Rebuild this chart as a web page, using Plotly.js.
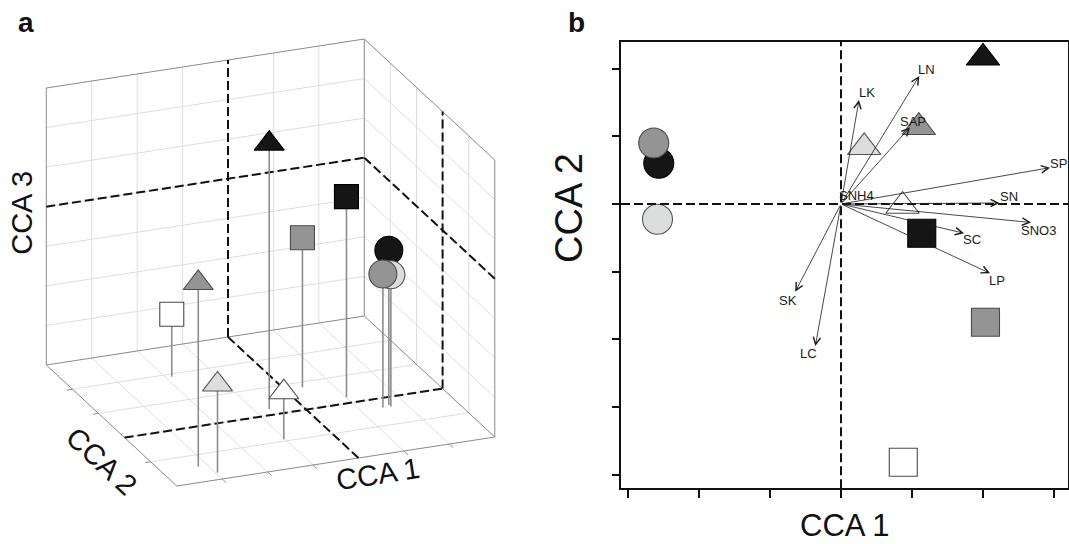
<!DOCTYPE html>
<html><head><meta charset="utf-8">
<script src="https://cdn.plot.ly/plotly-3.0.1.min.js"></script>
<style>html,body{margin:0;padding:0;background:#fff}#chart{width:1069px;height:544px}</style>
</head><body><div id="chart"></div>
<script>
// ---------------- data ----------------
// samples (draw order: back to front)
const sampleSymbol = ['circle','circle','circle','triangle-up','triangle-up','triangle-up','triangle-up','square','square','square'];
const sampleShade  = ['black','light','grey','black','grey','light','white','black','grey','white'];

// panel a : CCA 1-3 scores
const a_cca1 = [1.65, 1.66, 1.49, -0.69, -3.20, -2.96, -1.03, 1.01, 0.38, -1.87];
const a_cca2 = [-0.29, -0.35, -0.34, 0.22, -1.43, -1.75, -0.93, 0.22, 0.81, 1.90];
const a_cca3 = [-0.09, -0.67, -0.63, 2.71, 0.64, -1.77, -2.81, 1.07, -0.22, -2.42];
const a1Ticks = [-4,-3,-2,-1,0,1,2,3];
const a2Ticks = [3,2,1,0,-1,-2];
const a3Ticks = [-4,-3,-2,-1,0,1,2,3];

// panel b : CCA 1-2 biplot
const b_cca1 = [-2.563, -2.581, -2.634, 1.997, 1.094, 0.326, 0.865, 1.136, 2.032, 0.876];
const b_cca2 = [0.602, -0.226, 0.902, 2.161, 1.135, 0.838, -0.030, -0.433, -1.747, -3.818];
const envNames = ['LK','LN','SAP','SP','SN','SNO3','SC','LP','SK','LC','SNH4'];
const envCCA1 = [0.253, 1.101, 0.970, 2.940, 2.229, 2.672, 1.730, 2.096, -0.643, -0.361, 0.05];
const envCCA2 = [1.537, 1.892, 1.134, 0.537, 0.015, -0.273, -0.433, -1.024, -1.296, -2.099, 0.02];
const envLabelCCA1 = [0.366, 1.205, 1.006, 3.065, 2.367, 2.771, 1.842, 2.194, -0.748, -0.460, 0.215];
const envLabelCCA2 = [1.648, 1.985, 1.222, 0.594, 0.108, -0.392, -0.528, -1.135, -1.419, -2.214, 0.129];
const bXTicks = [-3,-2,-1,0,1,2,3];
const bYTicks = [-4,-3,-2,-1,0,1,2];

// ---------------- styles ----------------
const FONT = 'Liberation Sans, Arial, Helvetica, sans-serif';
const fillOf = {black:'#151515', grey:'#949494', light:'#dcdddd', white:'#ffffff'};
const edgeOf = {black:'#000000', grey:'#4a4a4a', light:'#555555', white:'#4a4a4a'};
const W = 1069, H = 544;

// panel a oblique projection (pixel space of hidden axes x2/y2)
const P = {ox:46.3, oy:365, eu:[318,-49], ev:[130.5,121], ew:[0,-277]};
const r1 = [a1Ticks[0], a1Ticks[a1Ticks.length-1]];
const r2 = [a2Ticks[0], a2Ticks[a2Ticks.length-1]];
const r3 = [a3Ticks[0], a3Ticks[a3Ticks.length-1]];
function proj(c1,c2,c3){
  const u=(c1-r1[0])/(r1[1]-r1[0]), v=(c2-r2[0])/(r2[1]-r2[0]), w=(c3-r3[0])/(r3[1]-r3[0]);
  return [P.ox+u*P.eu[0]+v*P.ev[0]+w*P.ew[0], P.oy+u*P.eu[1]+v*P.ev[1]+w*P.ew[1]];
}
function segs(list){ // list of polylines of 3D points
  const x=[],y=[];
  list.forEach(pl=>{ pl.forEach(p=>{const q=proj(p[0],p[1],p[2]); x.push(q[0]); y.push(q[1]);}); x.push(null); y.push(null); });
  return {x,y};
}
const inner = t => t.slice(1,-1);
const c1a=r1[0], c1b=r1[1], c2a=r2[0], c2b=r2[1], c3a=r3[0], c3b=r3[1];

// grid lines
const grid=[];
inner(a1Ticks).forEach(t=>{ grid.push([[t,c2a,c3a],[t,c2a,c3b]]); grid.push([[t,c2a,c3a],[t,c2b,c3a]]); });
inner(a3Ticks).forEach(t=>{ grid.push([[c1a,c2a,t],[c1b,c2a,t]]); grid.push([[c1b,c2a,t],[c1b,c2b,t]]); });
inner(a2Ticks).forEach(t=>{ grid.push([[c1b,t,c3a],[c1b,t,c3b]]); grid.push([[c1a,t,c3a],[c1b,t,c3a]]); });
const gridXY = segs(grid);

// box edges
const box = [
  [[c1a,c2a,c3a],[c1b,c2a,c3a],[c1b,c2a,c3b],[c1a,c2a,c3b],[c1a,c2a,c3a]],
  [[c1b,c2a,c3b],[c1b,c2b,c3b],[c1b,c2b,c3a],[c1b,c2a,c3a]],
  [[c1a,c2a,c3a],[c1a,c2b,c3a],[c1b,c2b,c3a]]
];
const boxXY = segs(box);

// small floor ticks
const tk=[];
inner(a1Ticks).filter(t=>t!==0).forEach(t=>tk.push([[t,c2b,c3a],[t,c2b-0.15,c3a]]));
inner(a2Ticks).filter(t=>t!==0).forEach(t=>tk.push([[c1a,t,c3a],[c1a-0.12,t,c3a]]));
const tickXY = segs(tk);

// zero planes (dashed)
const zero = [
  [[0,c2a,c3a],[0,c2a,c3b]], [[c1a,c2a,0],[c1b,c2a,0]],
  [[c1b,0,c3a],[c1b,0,c3b]], [[c1b,c2a,0],[c1b,c2b,0]],
  [[0,c2a,c3a],[0,c2b,c3a]], [[c1a,0,c3a],[c1b,0,c3a]]
];
const zeroXY = segs(zero);

// drop lines
const drops = a_cca1.map((v,i)=>[[v,a_cca2[i],a_cca3[i]],[v,a_cca2[i],c3a]]);
const dropXY = segs(drops);

const ptA = a_cca1.map((v,i)=>proj(v,a_cca2[i],a_cca3[i]));

const sizeA = {circle:28, square:24, 'triangle-up':26};
const sizeB = {circle:30, square:28, 'triangle-up':29};

const traces = [
  {type:'scatter', mode:'lines', x:gridXY.x, y:gridXY.y, xaxis:'x2', yaxis:'y2', line:{color:'#dedede', width:1}, hoverinfo:'skip'},
  {type:'scatter', mode:'lines', x:boxXY.x, y:boxXY.y, xaxis:'x2', yaxis:'y2', line:{color:'#8a8a8a', width:1}, hoverinfo:'skip'},
  {type:'scatter', mode:'lines', x:tickXY.x, y:tickXY.y, xaxis:'x2', yaxis:'y2', line:{color:'#8a8a8a', width:1}, hoverinfo:'skip'},
  {type:'scatter', mode:'lines', x:zeroXY.x, y:zeroXY.y, xaxis:'x2', yaxis:'y2', line:{color:'#111', width:2, dash:'9px,4px'}, hoverinfo:'skip'},
  {type:'scatter', mode:'lines', x:dropXY.x, y:dropXY.y, xaxis:'x2', yaxis:'y2', line:{color:'#8c8c8c', width:1.6}, hoverinfo:'skip'},
  {type:'scatter', mode:'markers', x:ptA.map(p=>p[0]), y:ptA.map(p=>p[1]), xaxis:'x2', yaxis:'y2', cliponaxis:false,
    marker:{symbol:sampleSymbol, size:sampleSymbol.map(s=>sizeA[s]), opacity:1, color:sampleShade.map(s=>fillOf[s]),
      line:{color:sampleShade.map(s=>edgeOf[s]), width:1.1}}, hoverinfo:'skip'},
  {type:'scatter', mode:'markers', x:b_cca1, y:b_cca2, xaxis:'x', yaxis:'y', cliponaxis:false,
    marker:{symbol:sampleSymbol, size:sampleSymbol.map(s=>sizeB[s]), opacity:1, color:sampleShade.map(s=>fillOf[s]),
      line:{color:sampleShade.map(s=>edgeOf[s]), width:1.1}}, hoverinfo:'skip'}
];

// annotations
const px = x => x/W, py = y => 1 - y/H;
const ann = [];
envNames.forEach((n,i)=>{
  ann.push({x:envCCA1[i], y:envCCA2[i], ax:0, ay:0, xref:'x', yref:'y', axref:'x', ayref:'y', text:'',
    showarrow:true, arrowhead:5, arrowsize:1.8, arrowwidth:0.8, arrowcolor:'#1a1a1a', standoff:0});
  ann.push({x:envLabelCCA1[i], y:envLabelCCA2[i], xref:'x', yref:'y', text:n, showarrow:false,
    xanchor:'center', yanchor:'middle', font:{family:FONT, size:13, color:'#1a1a1a'}});
});
function lab(text,x,y,size,angle,bold){
  ann.push({text: bold?'<b>'+text+'</b>':text, x:px(x), y:py(y), xref:'paper', yref:'paper', showarrow:false,
    xanchor:'center', yanchor:'middle', textangle:angle||0, font:{family:FONT, size:size, color:'#111'}});
}
lab('a', 26, 22.5, 28, 0, true);
lab('b', 576.5, 22.5, 28, 0, true);
lab('CCA 3', 22.5, 213.3, 29, -90);
lab('CCA 2', 101.7, 460.7, 29, 42.8);
lab('CCA 1', 378.3, 473.8, 29, -8.8);
lab('CCA 1', 845, 525, 31, 0);
lab('CCA 2', 569, 208, 38, -90);

const xL = 621, xR = 1068.3, yT = 41.7, yB = 488.3;
const x0px = 841, xUnit = 71.1, y0px = 204, yUnit = 67.65;

const layout = {
  width:W, height:H, margin:{l:0,r:0,t:0,b:0}, paper_bgcolor:'#fff', plot_bgcolor:'rgba(0,0,0,0)',
  showlegend:false, font:{family:FONT},
  xaxis:{domain:[xL/W, xR/W], range:[(xL-x0px)/xUnit, (xR-x0px)/xUnit], anchor:'y',
    showgrid:false, zeroline:false, showline:true, mirror:true, linecolor:'#111', linewidth:2,
    ticks:'outside', tickvals:bXTicks, ticklen:8, tickwidth:2, tickcolor:'#111', showticklabels:false, fixedrange:true},
  yaxis:{domain:[1-yB/H, 1-yT/H], range:[(y0px-yB)/yUnit, (y0px-yT)/yUnit], anchor:'x',
    showgrid:false, zeroline:false, showline:true, mirror:true, linecolor:'#111', linewidth:2,
    ticks:'outside', tickvals:bYTicks, ticklen:7, tickwidth:2, tickcolor:'#111', showticklabels:false, fixedrange:true},
  xaxis2:{domain:[0, 540/W], range:[0,540], anchor:'y2', visible:false, fixedrange:true},
  yaxis2:{domain:[0,1], range:[H,0], anchor:'x2', visible:false, fixedrange:true},
  shapes:[
    {type:'line', xref:'x', yref:'y domain', x0:0, x1:0, y0:0, y1:1, line:{color:'#111', width:2, dash:'9px,4px'}},
    {type:'line', xref:'x domain', yref:'y', x0:0, x1:1, y0:0, y1:0, line:{color:'#111', width:2, dash:'9px,4px'}}
  ],
  annotations:ann
};
Plotly.newPlot('chart', traces, layout, {displayModeBar:false, staticPlot:true});
</script></body></html>
